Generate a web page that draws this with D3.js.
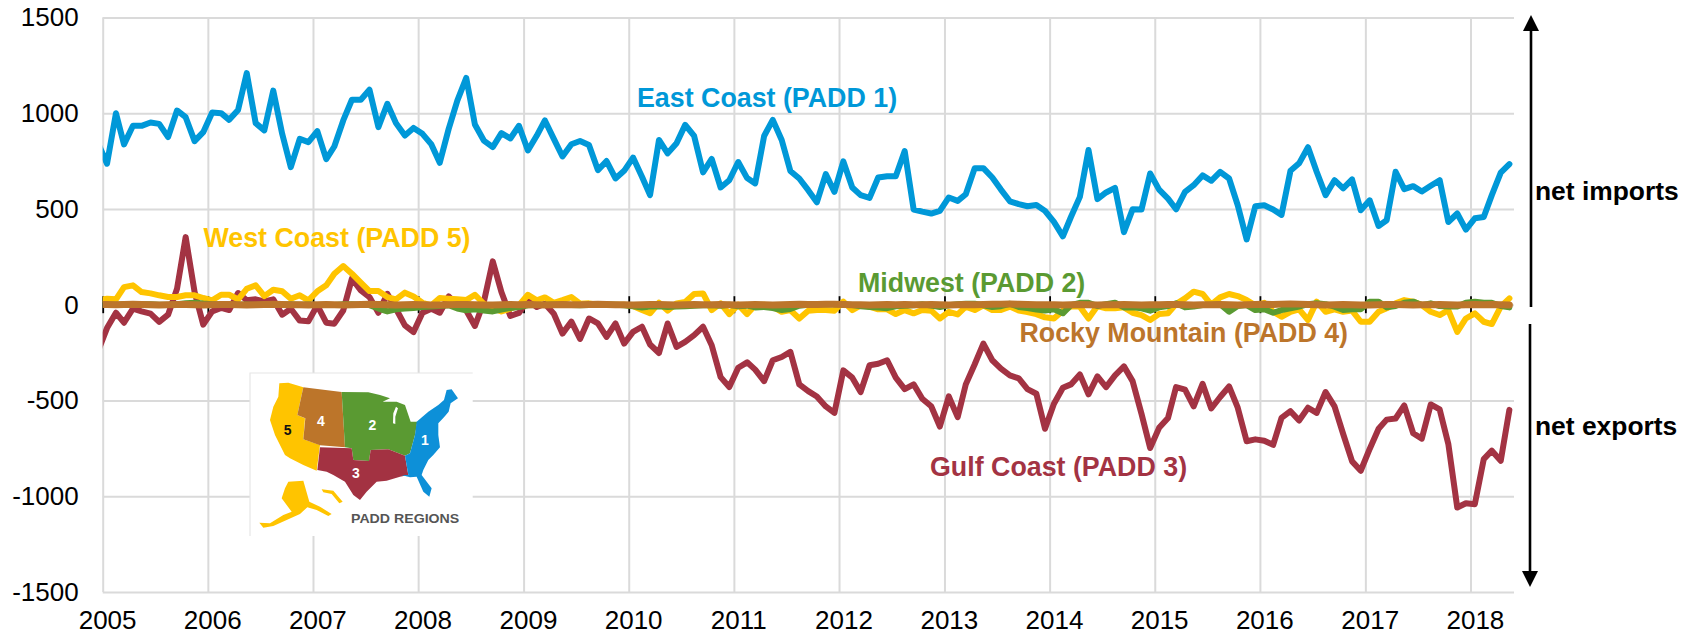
<!DOCTYPE html>
<html><head><meta charset="utf-8">
<script src="https://cdn.jsdelivr.net/npm/d3@7/dist/d3.min.js"></script>
<style>html,body{margin:0;padding:0;background:#fff}svg{display:block}text{font-family:"Liberation Sans",Arial,sans-serif}</style>
</head><body><svg id="c" width="1694" height="635"></svg>
<script>
const yearTicks=[2005,2006,2007,2008,2009,2010,2011,2012,2013,2014,2015,2016,2017,2018];
const valueTicks=[1500,1000,500,0,-500,-1000,-1500];
const firstMonth=[2004,11];
// one value per month, Dec 2004 first (only its trailing segment is visible), through May 2018
const eastCoast=[842,
736,1000,837,934,934,951,944,875,1014,979,854,901,
1003,1000,965,1017,1209,948,910,1118,892,718,866,849,
906,760,826,962,1070,1070,1122,927,1049,948,883,923,
892,837,741,918,1066,1184,941,857,823,896,868,934,
805,883,962,866,774,838,855,834,703,750,659,699,
768,668,572,860,790,843,939,881,691,761,612,650,
745,661,633,881,965,860,698,659,598,535,682,589,
748,612,572,558,664,671,671,802,497,486,476,490,
560,542,577,713,713,664,601,540,525,514,521,490,
432,357,458,563,808,551,586,610,379,498,497,685,
601,554,498,589,624,675,647,694,659,519,341,514,
519,497,469,699,738,822,694,572,650,607,654,493,
545,411,441,694,603,619,591,621,650,432,476,392,
451,458,572,689,734];
const gulfCoast=[-242,
-122,-42,-94,-21,-35,-47,-90,-52,83,353,66,-104,
-35,-17,-28,61,23,28,17,28,-52,-21,-83,-87,
-3,-94,-99,-30,136,75,40,-42,57,-21,-108,-143,
-42,-21,-42,43,-3,-30,-111,14,226,66,-59,-43,
23,-12,5,-47,-151,-88,-179,-72,-98,-168,-98,-203,
-142,-115,-208,-252,-98,-220,-194,-159,-115,-212,-378,-430,
-329,-301,-339,-399,-290,-273,-246,-416,-451,-479,-531,-565,
-343,-381,-456,-316,-308,-290,-381,-441,-416,-491,-530,-636,
-479,-587,-416,-311,-203,-290,-334,-369,-385,-441,-465,-648,
-517,-434,-416,-364,-468,-374,-430,-369,-322,-399,-570,-748,
-643,-591,-430,-444,-531,-413,-542,-482,-427,-538,-713,-703,
-710,-732,-591,-556,-605,-538,-565,-456,-531,-675,-818,-867,
-753,-648,-600,-594,-526,-671,-699,-521,-547,-727,-1059,-1037,
-1042,-806,-762,-815,-549];
const westCoast=[25,
31,28,92,101,66,59,49,40,40,49,49,35,
23,52,52,28,83,101,45,78,70,31,49,23,
70,101,162,202,162,115,71,71,40,28,63,43,
10,-3,35,31,28,24,52,5,-17,-35,-21,-3,
52,23,38,10,24,40,5,7,0,0,0,0,
-7,-28,-45,10,-31,7,14,56,59,-28,7,-49,
0,-49,-3,0,-10,-37,-28,-72,-31,-28,-28,-31,
16,-28,-3,-10,-24,-24,-49,-28,-45,-28,-31,-72,
-37,-51,-10,-28,-3,-28,-28,-10,-31,-38,-49,-66,
-72,-31,-10,-10,-72,-7,-19,-19,-14,-42,-54,-80,
-49,-45,3,33,68,56,0,38,56,45,24,-3,
10,-37,-63,-37,-24,-80,16,-37,-24,-37,-31,-89,
-89,-37,-19,7,24,16,-2,-37,-54,-28,-142,-72,
-45,-89,-101,-10,33];
const midwest=[0,
0,0,2,0,3,2,0,0,3,8,10,6,
3,2,0,0,1,-1,2,0,1,2,0,1,
-2,0,-1,2,3,0,-2,-20,-35,-24,-20,-17,
-12,-9,-7,-3,-20,-29,-24,-30,-35,-25,-17,-12,
-3,-2,0,1,0,-2,-3,-2,0,1,0,-3,
-8,-15,-10,-8,-12,-10,-8,-5,-3,-2,-5,0,
-8,-5,-14,-12,-18,-28,-22,-5,0,3,3,3,
2,-2,-8,-12,-15,-18,-8,-5,-3,2,-5,-12,
-3,3,5,5,-3,-12,-8,5,-12,-18,-25,-30,
-24,-45,-2,10,10,-7,3,10,-14,-14,-19,-31,
-14,-7,7,-14,-10,-2,0,3,-37,-7,-2,-28,
-24,-42,-28,-19,-10,3,7,3,-10,-28,-24,-24,
16,16,-14,-7,10,16,-2,7,-7,-10,-10,10,
16,10,10,-7,-14];
const rockyMountain=[1,
1,0,1,2,1,0,-1,0,1,1,0,-1,
0,1,1,0,-1,0,1,2,1,0,0,-1,
0,1,0,-1,0,1,2,1,0,-1,0,1,
0,-1,-1,0,1,1,0,-1,-2,0,1,0,
1,0,-1,0,1,0,0,1,2,1,0,0,
-1,0,1,1,0,-1,0,1,0,0,1,0,
-1,0,1,0,-1,0,1,2,1,1,2,2,
1,0,0,-1,0,1,0,1,0,0,1,0,
-1,0,1,0,1,2,3,4,2,1,0,0,
0,-1,0,1,0,-1,0,0,1,0,-1,0,
0,1,1,0,-1,0,0,1,0,-1,0,1,
2,1,3,4,3,1,0,-1,0,1,0,-1,
-1,0,1,1,0,-1,0,0,1,0,-1,0,
1,0,1,0,-1];
const seriesNames=["Gulf Coast (PADD 3)","East Coast (PADD 1)","West Coast (PADD 5)","Midwest (PADD 2)","Rocky Mountain (PADD 4)"];
const seriesValues=[gulfCoast,eastCoast,westCoast,midwest,rockyMountain];
const seriesColors=["#A33343","#0098D8","#FFC400","#5A9A32","#BC752B"];
const seriesWidths=[6,6,6,6,7];
// series label: name, left edge, baseline
const labelSpots=[[930,476],[637,106.5],[203.5,247],[858,291.5],[1019.5,341.5]];

const svg=d3.select("#c");
const L=102.7,R=1514,T=17.4,B=592;
const x=d3.scaleUtc().domain([new Date(Date.UTC(2005,0,1)),new Date(Date.UTC(2018,5,1))]).range([L,R]);
const y=d3.scaleLinear().domain([-1500,1500]).range([B,T]);
const yearDates=yearTicks.map(v=>new Date(Date.UTC(v,0,1)));
const mDate=i=>new Date(Date.UTC(firstMonth[0],firstMonth[1]+i,16));

const defs=svg.append("defs");
defs.append("clipPath").attr("id","plot").append("rect")
  .attr("x",L).attr("y",0).attr("width",1694-L).attr("height",635);
defs.append("filter").attr("id","soft").append("feGaussianBlur").attr("stdDeviation",1.1);

// gridlines
const gy=svg.append("g").attr("transform",`translate(${L},0)`)
  .call(d3.axisLeft(y).tickValues(valueTicks).tickSize(-(R-L)).tickFormat(""));
const gx=svg.append("g").attr("transform",`translate(0,${B})`)
  .call(d3.axisBottom(x).tickValues(yearDates).tickSize(-(B-T)).tickFormat(""));
[gy,gx].forEach(g=>{g.select(".domain").remove();g.selectAll("line").attr("stroke","#DADADA").attr("stroke-width",2);});
// black year ticks on the zero line
const tk=svg.append("g").attr("transform",`translate(0,${y(0)+8.5})`)
  .call(d3.axisBottom(x).tickValues(yearDates).tickSize(-17).tickFormat(""));
tk.select(".domain").remove();
tk.selectAll("line").attr("stroke","#000").attr("stroke-width",1.8);

// axis labels
const ly=svg.append("g").attr("transform",`translate(${L},0)`)
  .call(d3.axisLeft(y).tickValues(valueTicks).tickSize(0).tickPadding(24).tickFormat(d=>String(d)));
ly.select(".domain").remove();
ly.selectAll("text").attr("font-size",26).attr("fill","#000").style("font-family",'"Liberation Sans"');
const lx=svg.append("g").attr("transform",`translate(4.4,608)`)
  .call(d3.axisBottom(x).tickValues(yearDates).tickSize(0).tickPadding(0).tickFormat(d=>String(d.getUTCFullYear())));
lx.select(".domain").remove();
lx.selectAll("text").attr("font-size",26).attr("fill","#000").attr("dy","0.8em").style("font-family",'"Liberation Sans"');

// inset map
const padd5=[[178,70],[205,68],[250,82],[232,165],[255,175],[250,238],[300,255],[290,332],[250,315],[210,295],[195,285],[165,225],[150,180],[160,140],[175,110]];
const padd4=[[250,82],[365,96],[375,262],[300,256],[250,238],[256,175],[232,165]];
const padd2=[[365,96],[445,97],[480,105],[510,115],[488,125],[530,125],[555,135],[572,185],[592,185],[585,225],[570,280],[555,287],[505,268],[452,270],[447,303],[400,300],[395,265],[375,262]];
const lake=[[528,140],[534,145],[526,170],[526,192],[519,190],[520,160]];
const padd3=[[300,262],[395,265],[400,300],[447,303],[452,270],[505,268],[555,287],[565,345],[540,350],[500,362],[470,365],[440,395],[420,420],[400,405],[375,365],[340,345],[320,335],[292,330]];
const padd1=[[680,90],[695,88],[714,115],[692,130],[686,155],[672,172],[655,190],[655,225],[660,262],[640,285],[625,300],[610,330],[605,345],[635,385],[628,410],[610,395],[590,350],[570,352],[545,345],[565,345],[555,287],[570,280],[585,225],[590,185],[625,155],[655,135],[672,120]];
const alaska=[[205,365],[250,362],[268,425],[300,440],[335,462],[325,468],[290,450],[262,442],[240,462],[200,480],[160,498],[130,503],[118,488],[150,490],[190,465],[215,455],[185,415],[195,385]];
const hawaii=[[305,388],[340,392],[368,425],[358,430],[335,402],[310,397]];
const mapShapes=[[padd5,"#FFC400"],[padd4,"#BC752B"],[padd2,"#5A9A32"],[lake,"#fff"],[padd3,"#A33343"],[padd1,"#0E90D8"],[alaska,"#FFC400"],[hawaii,"#FFC400"]];
const mapNums=[["5",203,224,"#111"],["4",303,198,"#fff"],["2",457,211,"#fff"],["1",615,255,"#fff"],["3",408,355,"#fff"]];
const inset=svg.append("g");
inset.append("rect").attr("x",250).attr("y",373).attr("width",222.7).attr("height",163).attr("fill","#fff");
inset.append("path").attr("d","M250,536V373H472.7").attr("fill","none").attr("stroke","#E6E6E6").attr("stroke-width",1.2);
const mapG=inset.append("g").attr("transform","translate(220,360) scale(0.3333)");
const mapBlur=mapG.append("g").attr("filter","url(#soft)");
const poly=d3.line().curve(d3.curveLinearClosed);
mapShapes.forEach(([p,c])=>mapBlur.append("path").attr("d",poly(p)).attr("fill",c));
mapNums.forEach(([t,a,b,c])=>mapG.append("text").text(t).attr("x",a).attr("y",b).attr("text-anchor","middle").attr("font-size",42).attr("font-weight","bold").attr("fill",c));
mapG.append("text").text("PADD REGIONS").attr("x",393).attr("y",490).attr("font-size",39).attr("font-weight","bold").attr("fill","#555").attr("textLength",325).attr("lengthAdjust","spacingAndGlyphs");

// series
const line=d3.line().x((d,i)=>x(mDate(i))).y(d=>y(d));
const lines=svg.append("g").attr("clip-path","url(#plot)");
lines.selectAll("path").data(seriesValues).join("path")
  .attr("d",line).attr("fill","none")
  .attr("stroke",(d,i)=>seriesColors[i]).attr("stroke-width",(d,i)=>seriesWidths[i])
  .attr("stroke-linejoin","round").attr("stroke-linecap","round");

// series labels
svg.append("g").selectAll("text").data(seriesNames).join("text")
  .text(d=>d).attr("x",(d,i)=>labelSpots[i][0]).attr("y",(d,i)=>labelSpots[i][1])
  .attr("font-size",26.8).attr("font-weight","bold").attr("fill",(d,i)=>seriesColors[i]);

// side arrows
const arrowG=svg.append("g");
arrowG.append("line").attr("x1",1531).attr("x2",1531).attr("y1",28).attr("y2",307).attr("stroke","#000").attr("stroke-width",2.6);
arrowG.append("path").attr("d","M1531,15L1539,31H1523Z").attr("fill","#000");
arrowG.append("line").attr("x1",1530).attr("x2",1530).attr("y1",324).attr("y2",574).attr("stroke","#000").attr("stroke-width",2.6);
arrowG.append("path").attr("d","M1530,587L1538,571H1522Z").attr("fill","#000");
arrowG.append("text").text("net imports").attr("x",1535).attr("y",200).attr("font-size",26.4).attr("font-weight","bold").attr("fill","#000");
arrowG.append("text").text("net exports").attr("x",1535).attr("y",435).attr("font-size",26.4).attr("font-weight","bold").attr("fill","#000");
</script></body></html>
